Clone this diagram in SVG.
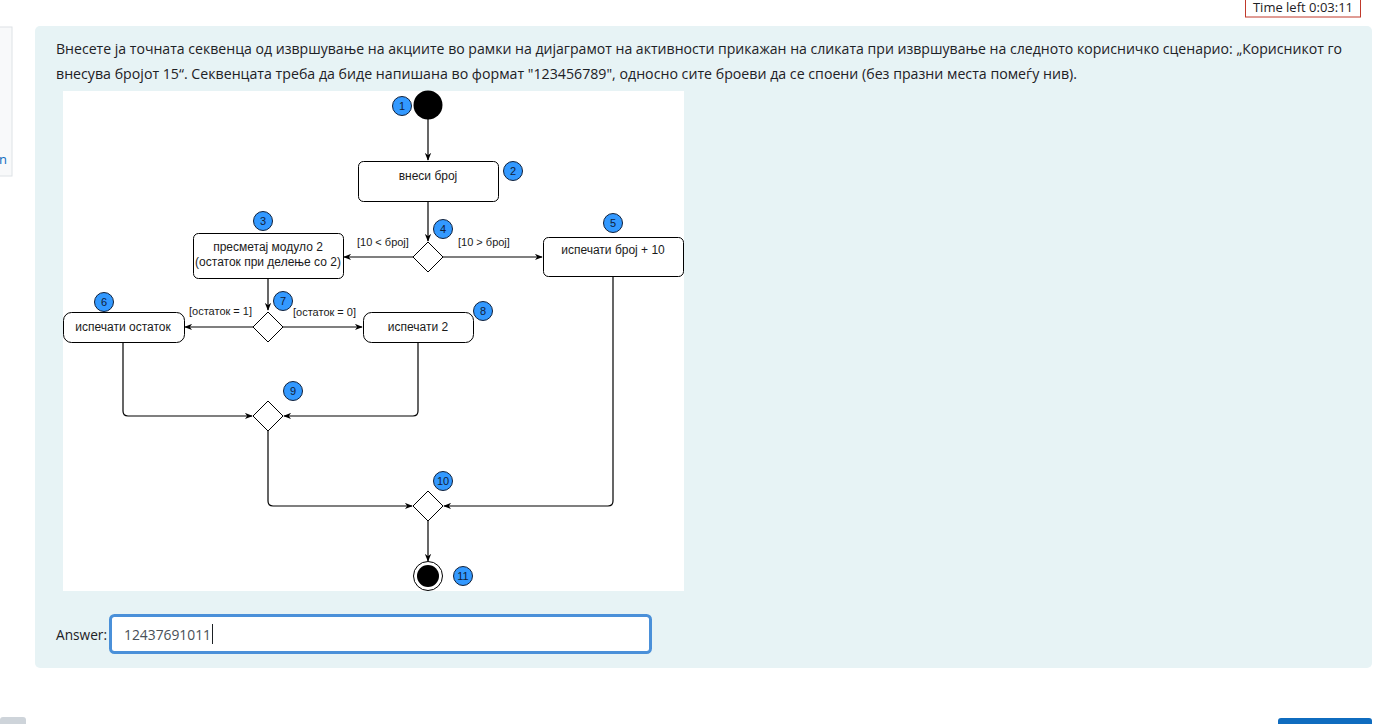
<svg xmlns="http://www.w3.org/2000/svg" width="1379" height="724" viewBox="0 0 1379 724">
<style>
.page{font-family:"Open Sans","Noto Sans","Liberation Sans",sans-serif;fill:#1d2125}
.lbl{font-family:"Liberation Sans",Arial,sans-serif;font-size:12px;fill:#1a1a1a}
.glbl{font-family:"Liberation Sans",Arial,sans-serif;font-size:11px;fill:#1a1a1a}
.box{fill:#ffffff;stroke:#000000;stroke-width:1}
.dia{fill:#ffffff;stroke:#000000;stroke-width:1}
.badge circle{fill:#3399ff;stroke:#10203a;stroke-width:1}
.badge text{font-family:"Liberation Sans",Arial,sans-serif;font-size:11px;fill:#10203a;text-anchor:middle}
.edge{fill:none;stroke:#000000;stroke-width:1.2;marker-end:url(#arr)}
.line{fill:none;stroke:#000000;stroke-width:1.2}
</style>
<defs>
<marker id="arr" viewBox="0 0 10 8" refX="9" refY="4" markerWidth="8" markerHeight="7" markerUnits="userSpaceOnUse" orient="auto">
<path d="M0,0 L10,4 L0,8 L3,4 z" fill="#000"/>
</marker>
</defs>
<rect x="0" y="0" width="1379" height="724" fill="#ffffff"/>
<g id="sidepanel">
<rect x="-2" y="27" width="14" height="149" fill="#f8f9fa" stroke="#dee2e6"/>
<text x="-1" y="164" class="page" font-size="13" style="fill:#0f6cbf">n</text>
</g>
<g id="timer">
<rect x="1245.5" y="-6" width="115" height="23" fill="#ffffff" stroke="#c0392b" stroke-width="1"/>
<text x="1303" y="12" class="page" font-size="13" text-anchor="middle">Time left 0:03:11</text>
</g>
<g id="panel">
<rect x="35" y="26" width="1337" height="642" rx="5" fill="#e7f3f5"/>
<text x="56" y="54" class="page" font-size="14.5" textLength="1286" lengthAdjust="spacingAndGlyphs">Внесете ја точната секвенца од извршување на акциите во рамки на дијаграмот на активности прикажан на сликата при извршување на следното корисничко сценарио: „Корисникот го</text>
<text x="56" y="79" class="page" font-size="14.5" textLength="1021" lengthAdjust="spacingAndGlyphs">внесува бројот 15“. Секвенцата треба да биде напишана во формат "123456789", односно сите броеви да се споени (без празни места помеѓу нив).</text>
</g>
<rect id="diagram-bg" x="63" y="91" width="621" height="500" fill="#ffffff"/>
<g id="connectors">
<path class="edge" d="M428,119 V160"/>
<path class="edge" d="M428,201 V241"/>
<path class="edge" d="M413,257 H344"/>
<path class="edge" d="M443,257 H542"/>
<path class="edge" d="M268,278 V310"/>
<path class="edge" d="M253,327 H185"/>
<path class="edge" d="M283,327 H362"/>
<path class="edge" d="M123,342 V411 Q123,416 128,416 H252"/>
<path class="edge" d="M418,342 V411 Q418,416 413,416 H284"/>
<path class="edge" d="M268,431 V501 Q268,506 273,506 H412"/>
<path class="edge" d="M613,276 V501 Q613,506 608,506 H444"/>
<path class="edge" d="M428,521 V561"/>
<text x="357" y="246" class="glbl">[10 &lt; број]</text>
<text x="458" y="246" class="glbl" font-size="10.5">[10 &gt; број]</text>
<text x="189" y="315" class="glbl">[остаток = 1]</text>
<text x="293" y="316" class="glbl" font-size="10.5">[остаток = 0]</text>
</g>
<g id="n1"><circle cx="428" cy="105" r="14.5" fill="#000"/></g>
<g id="n2"><rect class="box" x="358.5" y="161.5" width="140" height="40" rx="5"/><text x="428" y="180" class="lbl" text-anchor="middle">внеси број</text></g>
<g id="n3"><rect class="box" x="193.5" y="233.5" width="150" height="45" rx="5"/><text x="268" y="251" class="lbl" text-anchor="middle">пресметај модуло 2</text><text x="268" y="266" class="lbl" text-anchor="middle">(остаток при делење со 2)</text></g>
<g id="n4"><path class="dia" d="M428,242 L443,257 L428,272 L413,257 Z"/></g>
<g id="n5"><rect class="box" x="543.5" y="237.5" width="140" height="39" rx="5"/><text x="613" y="254" class="lbl" text-anchor="middle">испечати број + 10</text></g>
<g id="n6"><rect class="box" x="63.5" y="312.5" width="121" height="30" rx="8"/><text x="123" y="331" class="lbl" text-anchor="middle">испечати остаток</text></g>
<g id="n7"><path class="dia" d="M268,312 L283,327 L268,342 L253,327 Z"/></g>
<g id="n8"><rect class="box" x="363.5" y="312.5" width="110" height="30" rx="8"/><text x="418" y="331" class="lbl" text-anchor="middle">испечати 2</text></g>
<g id="n9"><path class="dia" d="M268,401 L283,416 L268,431 L253,416 Z"/></g>
<g id="n10"><path class="dia" d="M428,491 L443,506 L428,521 L413,506 Z"/></g>
<g id="n11"><circle cx="428" cy="576" r="14.5" fill="#fff" stroke="#000" stroke-width="1"/><circle cx="428" cy="576" r="11" fill="#000"/></g>
<g id="badges">
<g class="badge" id="b1"><circle cx="402" cy="106" r="9.5"/><text x="402" y="110">1</text></g>
<g class="badge" id="b2"><circle cx="513" cy="171" r="9.5"/><text x="513" y="175">2</text></g>
<g class="badge" id="b3"><circle cx="263" cy="221" r="9.5"/><text x="263" y="225">3</text></g>
<g class="badge" id="b4"><circle cx="443" cy="229" r="9.5"/><text x="443" y="233">4</text></g>
<g class="badge" id="b5"><circle cx="613" cy="223" r="9.5"/><text x="613" y="227">5</text></g>
<g class="badge" id="b6"><circle cx="104" cy="302" r="9.5"/><text x="104" y="306">6</text></g>
<g class="badge" id="b7"><circle cx="283" cy="301" r="9.5"/><text x="283" y="305">7</text></g>
<g class="badge" id="b8"><circle cx="483" cy="311" r="9.5"/><text x="483" y="315">8</text></g>
<g class="badge" id="b9"><circle cx="293" cy="391" r="9.5"/><text x="293" y="395">9</text></g>
<g class="badge" id="b10"><circle cx="443" cy="481" r="9.5"/><text x="443" y="485">10</text></g>
<g class="badge" id="b11"><circle cx="463" cy="576" r="9.5"/><text x="463" y="580">11</text></g>
</g>
<g id="answer">
<text x="56" y="640" class="page" font-size="14.5" textLength="51" lengthAdjust="spacingAndGlyphs">Answer:</text>
<rect x="110.5" y="615.5" width="540" height="37" rx="4" fill="#ffffff" stroke="#4a90d9" stroke-width="3"/>
<text x="124" y="640" class="page" font-size="14.5" style="fill:#495057" textLength="87" lengthAdjust="spacingAndGlyphs">12437691011</text>
<line x1="212.5" y1="624" x2="212.5" y2="644" stroke="#1d2125" stroke-width="1"/>
</g>
<rect x="0" y="717" width="26" height="10" rx="3" fill="#ced4da"/>
<rect x="1278" y="718" width="94" height="10" rx="3" fill="#0f6cbf"/>
</svg>
